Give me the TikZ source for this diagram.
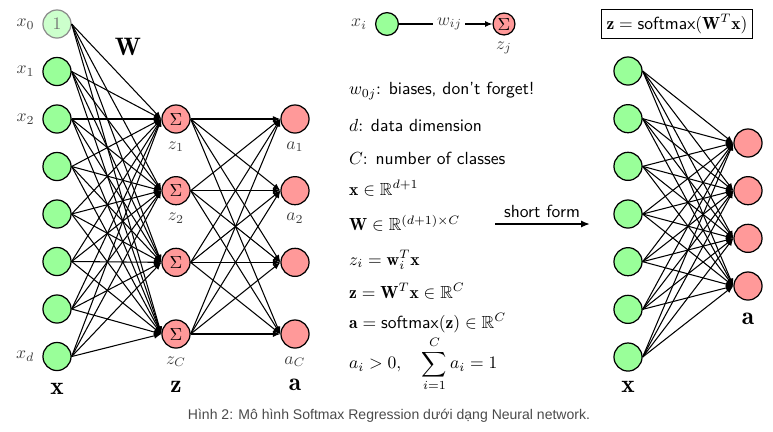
\documentclass[tikz,border=0pt]{standalone}
\usepackage{amsmath,amssymb}
\usepackage{fontspec}
\newfontfamily\capfont{Liberation Sans}
\usetikzlibrary{arrows.meta,positioning,calc}
\definecolor{inG}{HTML}{99FF99}
\definecolor{outR}{HTML}{FF9999}
\definecolor{capC}{HTML}{4A4A4A}

\begin{document}
\begin{tikzpicture}[x=0.57pt,y=-0.57pt,
  neu/.style={circle,draw,line width=0.7pt,minimum size=16pt,inner sep=0pt},
  inp/.style={neu,fill=inG},
  sig/.style={neu,fill=outR},
  wire/.style={line width=0.6pt,-{Latex[length=4.2pt,width=3.4pt]}},
  lab/.style={text=black!75},
  big/.style={font=\Large}]
  \useasboundingbox (0,0) rectangle (773,431);
  % left network
  \node[neu,draw=black!45,fill=inG!50,text=black!55] (x0) at (57,24) {$1$};
  \foreach \i in {1,...,7}
    \node[inp] (x\i) at (57,{24+47.5*\i}) {};
  \foreach \j in {1,...,4}{
    \node[sig] (z\j) at (176,{119+71.67*(\j-1)}) {$\Sigma$};
    \node[sig] (a\j) at (295,{119+71.67*(\j-1)}) {};}
  \foreach \i in {0,...,7}
    \foreach \j in {1,...,4}
      \draw[wire] (x\i.east) -- (z\j.west);
  \foreach \i in {1,...,4}
    \foreach \j in {1,...,4}
      \draw[wire] (z\i.east) -- (a\j.west);
  \foreach \n/\t in {0/x_0,1/x_1,2/x_2,7/x_d}
    \node[lab,left=1pt of x\n] (lx\n) {$\t$};
  \foreach \n/\t in {1/1,2/2,4/C}{
    \node[lab,below=1pt of z\n] (lz\n) {$z_\t$};
    \node[lab,below=1pt of a\n] (la\n) {$a_\t$};}
  \node[big] (wlab) at (128,47) {$\mathbf{W}$};
  \node[big] (bx) at (57,389) {$\mathbf{x}$};
  \node[big] (bz) at (176,387) {$\mathbf{z}$};
  \node[big] (ba) at (295,385) {$\mathbf{a}$};
  % legend and notes
  \node[inp,minimum size=13pt] (xi) at (387,24) {};
  \node[lab,left=1pt of xi] (lxi) {$x_i$};
  \node[sig,minimum size=12.5pt] (zj) at (504,24) {$\Sigma$};
  \node[lab,below=0pt of zj] (lzj) {$z_j$};
  \draw[wire] (xi) -- node[fill=white,inner sep=2pt,pos=0.54,lab] (wij) {$w_{ij}$} (zj);
  \node[anchor=west] (t1) at (343,91) {$w_{0j}$: \textsf{biases, don't forget!}};
  \node[anchor=west] (t2) at (343,125) {$d$: \textsf{data dimension}};
  \node[anchor=west] (t3) at (343,158) {$C$: \textsf{number of classes}};
  \node[anchor=west] (t4) at (343,188) {$\mathbf{x}\in\mathbb{R}^{d+1}$};
  \node[anchor=west] (t5) at (343,223) {$\mathbf{W}\in\mathbb{R}^{(d+1)\times C}$};
  \node[anchor=west] (t6) at (343,260) {$z_i=\mathbf{w}_i^T\mathbf{x}$};
  \node[anchor=west] (t7) at (343,291) {$\mathbf{z}=\mathbf{W}^T\mathbf{x}\in\mathbb{R}^C$};
  \node[anchor=west] (t8) at (343,323) {$\mathbf{a}=\mathsf{softmax}(\mathbf{z})\in\mathbb{R}^C$};
  \node[anchor=west] (t9) at (343,364) {$\displaystyle a_i>0,\quad\sum_{i=1}^C a_i=1$};
  \node[font=\sffamily] (sf) at (542,211) {short form};
  \coordinate (sfa) at (495,224);
  \coordinate (sfb) at (590,224);
  \draw[line width=1.1pt,-{Latex[length=5pt,width=4pt]}] (sfa) -- (sfb);
  % short form network
  \node[draw,line width=0.6pt,inner sep=3pt] (eq) at (677,24)
    {$\mathbf{z}=\mathsf{softmax}(\mathbf{W}^T\mathbf{x})$};
  \foreach \i in {1,...,7}
    \node[inp] (r\i) at (628,{71+47.67*(\i-1)}) {};
  \foreach \j in {1,...,4}
    \node[sig] (s\j) at (748,{143+47.67*(\j-1)}) {};
  \foreach \i in {1,...,7}
    \foreach \j in {1,...,4}
      \draw[wire] (r\i.east) -- (s\j.west);
  \node[big] (rx) at (628,387) {$\mathbf{x}$};
  \node[big] (ra) at (748,319) {$\mathbf{a}$};
  % caption
  \node[text=capC,font=\capfont\fontsize{8}{9.5}\selectfont] (cap) at (389,416)
    {Hình 2: Mô hình Softmax Regression dưới dạng Neural network.};
\end{tikzpicture}
\end{document}
